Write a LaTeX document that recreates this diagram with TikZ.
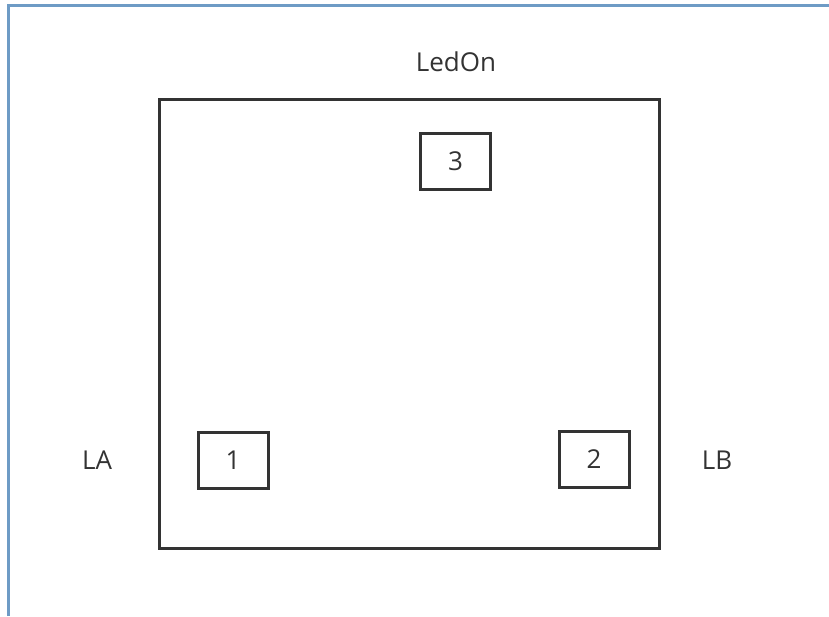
\documentclass[tikz,border=0pt]{standalone}
\usepackage{fontspec}
\setmainfont{Open Sans}
\definecolor{framecol}{HTML}{6E9BC5}
\definecolor{inkcol}{HTML}{333333}

\begin{document}
\begin{tikzpicture}[x=1pt,y=-1pt,
    every node/.style={font=\fontsize{26}{30}\selectfont, text=inkcol},
    ledbox/.style={draw=inkcol, line width=3pt, inner sep=0pt, minimum width=70pt, minimum height=56pt}]
  \useasboundingbox (0,0) rectangle (829,616);
  % window frame, top and left only
  \draw[framecol, line width=3.5pt] (8.5,616) -- (8.5,5.3) -- (829,5.3);
  % board
  \node[draw=inkcol, line width=3pt, inner sep=0pt, minimum width=500pt, minimum height=449pt] (board) at (409,323.5) {};
  \node (ledon) at (456,62) {LedOn};
  \node[ledbox] (k3) at (455.5,161) {3};
  \node[ledbox] (k1) at (233,460) {1};
  \node[ledbox] (k2) at (594,459.5) {2};
  \node (la) at (97,460) {LA};
  \node (lb) at (717,460) {LB};
\end{tikzpicture}
\end{document}
